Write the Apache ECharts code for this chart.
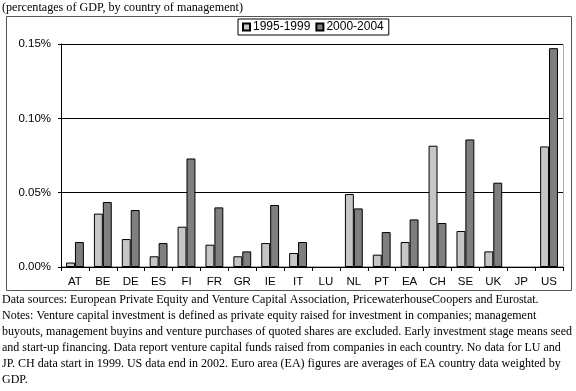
<!DOCTYPE html>
<html><head><meta charset="utf-8">
<script src="https://cdn.jsdelivr.net/npm/echarts@6/dist/echarts.min.js"></script>
<style>html,body{margin:0;padding:0;background:#fff}#c{width:576px;height:391px}</style>
</head><body><div id="c"></div>
<script>
const categories = ['AT','BE','DE','ES','FI','FR','GR','IE','IT','LU','NL','PT','EA','CH','SE','UK','JP','US'];
const seriesNames = ['1995-1999','2000-2004'];
const values1995 = [0.0030,0.0359,0.0188,0.0072,0.0271,0.0150,0.0072,0.0161,0.0094,null,0.0491,0.0083,0.0168,0.0816,0.0242,0.0105,null,0.0811];
const values2000 = [0.0168,0.0437,0.0383,0.0161,0.0730,0.0401,0.0105,0.0417,0.0168,null,0.0394,0.0235,0.0320,0.0296,0.0858,0.0567,null,0.1472];
const yTicks = [0, 0.05, 0.10, 0.15];
const titleText = '(percentages of GDP, by country of management)';
const noteLines = [
 'Data sources: European Private Equity and Venture Capital Association, PricewaterhouseCoopers and Eurostat.',
 'Notes: Venture capital investment is defined as private equity raised for investment in companies; management',
 'buyouts, management buyins and venture purchases of quoted shares are excluded. Early investment stage means seed',
 'and start-up financing. Data report venture capital funds raised from companies in each country. No data for LU and',
 'JP. CH data start in 1999. US data end in 2002. Euro area (EA) figures are averages of EA country data weighted by',
 'GDP.'
];

const serif = '"Liberation Serif", "Times New Roman", serif';
const sans = '"Liberation Sans", Arial, sans-serif';
const mctx = document.createElement('canvas').getContext('2d');
function textW(t, font){ mctx.font = font; return mctx.measureText(t).width; }
const noteFont = '13.5px ' + serif;
const noteScale = 570 / textW(noteLines[2], noteFont);
const titleScale = 241 / textW(titleText, noteFont);

const chart = echarts.init(document.getElementById('c'), null, {renderer:'canvas'});
const graphics = [
  {type:'rect', shape:{x:6.5,y:16.5,width:565,height:274}, style:{fill:null, stroke:'#555', lineWidth:1}, silent:true, z:-1},
  {type:'rect', shape:{x:61.5,y:44.5,width:502,height:222}, style:{fill:null, stroke:'#aaa', lineWidth:1}, silent:true, z:-1},
  {type:'text', x:2, y:0, scaleX:titleScale, style:{text:titleText, font:noteFont, fill:'#000'}}
];
noteLines.forEach((t,i)=>graphics.push({type:'text', x:2, y:292+i*16, scaleX:noteScale, style:{text:t, font:noteFont, fill:'#000'}}));

chart.setOption({
  animation:false,
  backgroundColor:'#fff',
  grid:{left:61, right:13, top:44, bottom:124, containLabel:false},
  legend:{
    data:seriesNames, left:238, top:19, itemWidth:7, itemHeight:7, itemGap:5,
    borderColor:'#000', borderWidth:1, padding:[2,5,2,4],
    textStyle:{fontFamily:sans, fontSize:12, color:'#000', padding:[0,0,0,-2]},
    icon:'rect'
  },
  xAxis:{
    type:'category', data:categories,
    axisLine:{lineStyle:{color:'#000', width:1}},
    axisTick:{show:true, alignWithLabel:false, length:4, lineStyle:{color:'#000'}},
    axisLabel:{fontFamily:sans, fontSize:11.5, color:'#000', margin:9}
  },
  yAxis:{
    type:'value', min:0, max:0.15, interval:0.05,
    axisLine:{show:true, lineStyle:{color:'#000'}},
    axisTick:{show:true, length:3, inside:false, lineStyle:{color:'#000'}},
    splitLine:{show:true, lineStyle:{color:'#000', width:1}},
    axisLabel:{fontFamily:sans, fontSize:11.5, color:'#000', margin:10, formatter:v=>v.toFixed(2)+'%'}
  },
  series:[
    {name:seriesNames[0], type:'bar', data:values1995, barGap:'0%', barCategoryGap:'36%',
     itemStyle:{color:'#c6c6c6', borderColor:'#000', borderWidth:1}},
    {name:seriesNames[1], type:'bar', data:values2000,
     itemStyle:{color:'#7f7f7f', borderColor:'#000', borderWidth:1}}
  ],
  graphic:graphics
});
</script></body></html>
